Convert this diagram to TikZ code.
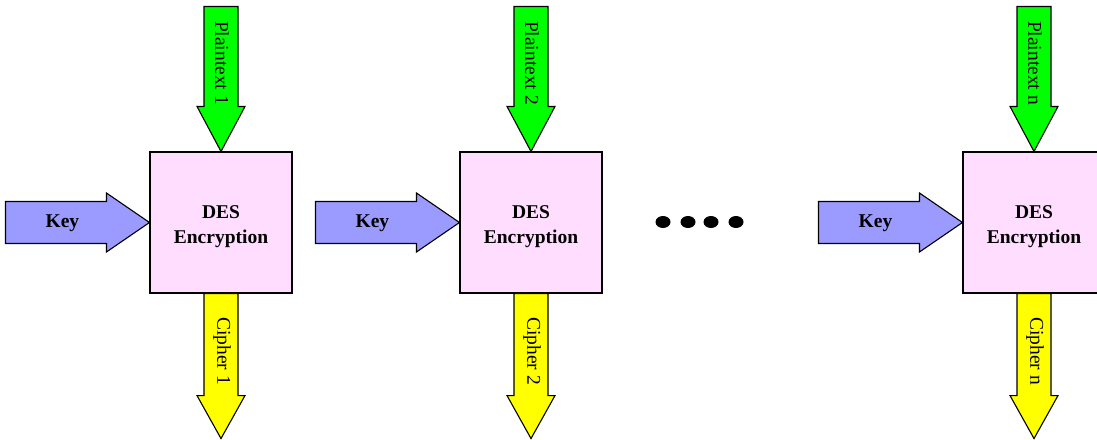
\documentclass[tikz,border=0pt]{standalone}
\usepackage{fontspec}
\setmainfont{Liberation Serif}
\usetikzlibrary{calc}
\begin{document}
\begin{tikzpicture}[x=1pt,y=-1pt,
  desbox/.style={draw=black,line width=1.1pt,fill=boxpink,minimum width=142pt,minimum height=141pt,inner sep=0pt},
  blockarrow/.style={draw=black,line width=1.1pt,line join=miter},
  lbl/.style={font=\fontsize{19.5}{25}\selectfont,inner sep=0pt},
  blbl/.style={lbl,font=\fontsize{19.5}{25}\selectfont\bfseries}]
\definecolor{boxpink}{RGB}{255,221,255}
\definecolor{keyblue}{RGB}{155,155,255}
\definecolor{plaingreen}{RGB}{0,255,0}
\definecolor{cipheryellow}{RGB}{255,255,0}
\useasboundingbox (0,0) rectangle (1097,439);

\foreach \cx/\k in {221/1, 531/2, 1034/n} {
  % encryption block
  \node[desbox] (des\k) at (\cx,222.5) {};
  \node[blbl,align=center] (lab\k) at (\cx,227) {DES\\Encryption};
  % plaintext block arrow into the top
  \draw[blockarrow,fill=plaingreen] (des\k.north) -- +(-24,-45) -- +(-17,-45) -- +(-17,-145)
       -- +(17,-145) -- +(17,-45) -- +(24,-45) -- cycle;
  \node[lbl,rotate=-90] (pt\k) at (\cx+1,63) {Plaintext \k};
  % ciphertext block arrow out of the bottom
  \draw[blockarrow,fill=cipheryellow] (des\k.south) ++(-17,0) -- ++(0,102) -- ++(-7,0)
       -- ++(24,43) -- ++(24,-43) -- ++(-7,0) -- ++(0,-102) -- cycle;
  \node[lbl,rotate=-90] (ct\k) at (\cx+1,351) {Cipher \k};
  % key block arrow into the left side
  \draw[blockarrow,fill=keyblue] (des\k.west) -- ++(-43,-29.5) -- ++(0,8.5) -- ++(-101,0)
       -- ++(0,42) -- ++(101,0) -- ++(0,8.5) -- cycle;
  \node[blbl] (key\k) at ($(des\k.west)+(-87,1)$) {Key};
}

% omitted stages
\foreach \x in {663, 688, 711, 736}
  \fill (\x,222) ellipse [x radius=7.5, y radius=6];
\end{tikzpicture}
\end{document}
